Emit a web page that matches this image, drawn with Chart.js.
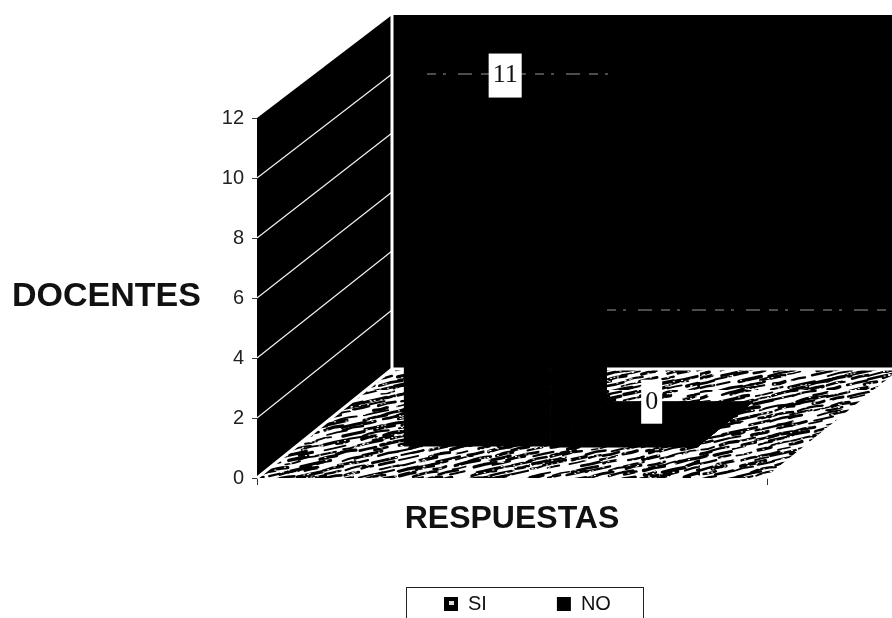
<!DOCTYPE html>
<html>
<head>
<meta charset="utf-8">
<style>
  html, body { margin: 0; padding: 0; background: #fff; overflow: hidden; }
  canvas { display: block; }
</style>
<script src="https://cdn.jsdelivr.net/npm/chart.js@4/dist/chart.umd.min.js"></script>
</head>
<body>
<canvas id="grafico" width="892" height="618"></canvas>
<script>
const categorias = ["RESPUESTAS"];
const valoresSi = [11];
const valoresNo = [0];
const nombresSeries = ["SI", "NO"];
const etiquetasY = [0, 2, 4, 6, 8, 10, 12];

// Profundidad del dibujo 3D: la caja del piso se corre 135px a la derecha y ~109px hacia arriba
const FONDO_X = 135;
const FONDO_Y = 109;
const BARRA_INI = 0.284;
const BARRA_FIN = 0.70;

function proyectar(chart, x, y, d) {
  const subida = FONDO_Y - (chart.chartArea.bottom - y) / 60;
  return [x + FONDO_X * d, y - subida * d];
}

function poligono(ctx, puntos, color) {
  ctx.beginPath();
  puntos.forEach((p, i) => (i ? ctx.lineTo(p[0], p[1]) : ctx.moveTo(p[0], p[1])));
  ctx.closePath();
  ctx.fillStyle = color;
  ctx.fill();
}

// Textura tipo escaneo del piso: trazos cortos inclinados
function hash(i, j) {
  const s = Math.sin(i * 12.9898 + j * 78.233) * 43758.5453;
  return s - Math.floor(s);
}

function crearTextura(ctx) {
  const c = document.createElement("canvas");
  c.width = 700;
  c.height = 130;
  const g = c.getContext("2d");
  g.fillStyle = "#fff";
  g.fillRect(0, 0, c.width, c.height);
  g.strokeStyle = "#000";
  g.lineCap = "round";
  for (let fila = 0; fila < 30; fila++) {
    for (let col = 0; col < 40; col++) {
      const x = col * 19 + hash(col, fila) * 12 - 8;
      const y = fila * 5 + hash(fila, col + 3) * 2.5;
      const largo = 11 + hash(col + 7, fila + 2) * 15;
      g.lineWidth = 1.6 + hash(col + 1, fila + 9) * 2;
      g.beginPath();
      g.moveTo(x, y + largo * 0.22);
      g.quadraticCurveTo(x + largo * 0.5, y + hash(col, fila + 5) * 3, x + largo, y);
      g.stroke();
    }
  }
  // Motas blancas del escaneo
  g.fillStyle = "#fff";
  for (let k = 0; k < 2600; k++) {
    g.fillRect(hash(k, 1) * c.width, hash(k, 2) * c.height, 2, 1);
  }
  return ctx.createPattern(c, "repeat");
}

const dibujo3d = {
  id: "dibujo3d",
  beforeLayout(chart) {
    // La separacion entre items no debe comerse el alto del grafico
    const ley = chart.legend;
    if (!ley.fitOriginal) {
      ley.fitOriginal = ley.fit;
      ley.fit = function () {
        this.fitOriginal();
        this.height = 80;
      };
    }
  },
  afterLayout(chart) {
    // La leyenda va dentro de su recuadro, bajo el piso
    const ley = chart.legend;
    ley.left = 444 - ley.options.labels.padding;
    ley.right = 892;
    ley.top = 594 - ley.options.labels.padding;
  },
  beforeDatasetsDraw(chart) {
    const { ctx, chartArea: a, scales } = chart;
    const yS = scales.y;
    const p = (x, y, d) => proyectar(chart, x, y, d);

    // Pared de fondo y pared izquierda
    poligono(ctx, [p(a.left, a.top, 1), p(a.right, a.top, 1), p(a.right, a.bottom, 1), p(a.left, a.bottom, 1)], "#000");
    poligono(ctx, [[a.left, a.top], p(a.left, a.top, 1), p(a.left, a.bottom, 1), [a.left, a.bottom]], "#000");

    ctx.strokeStyle = "#f2f2f2";
    ctx.lineWidth = 1.2;
    etiquetasY.slice(1, -1).forEach(v => {
      const y = yS.getPixelForValue(v);
      const fin = p(a.left, y, 1);
      ctx.beginPath();
      ctx.moveTo(a.left, y);
      ctx.lineTo(fin[0], fin[1]);
      ctx.stroke();
    });

    // Esquina blanca entre paredes
    const esqA = p(a.left, a.top, 1);
    const esqB = p(a.left, a.bottom, 1);
    ctx.lineWidth = 3;
    ctx.strokeStyle = "#fff";
    ctx.beginPath();
    ctx.moveTo(esqA[0], esqA[1]);
    ctx.lineTo(esqB[0], esqB[1]);
    ctx.stroke();

    // Piso
    const piso = [[a.left, a.bottom], [a.right, a.bottom], p(a.right, a.bottom, 1), p(a.left, a.bottom, 1)];
    poligono(ctx, piso, crearTextura(ctx));
    ctx.strokeStyle = "#fff";
    ctx.lineWidth = 3;
    ctx.beginPath();
    ctx.moveTo(piso[0][0], piso[0][1]);
    ctx.lineTo(piso[3][0], piso[3][1]);
    ctx.lineTo(piso[2][0], piso[2][1]);
    ctx.lineTo(piso[1][0], piso[1][1]);
    ctx.stroke();

    // Cara superior y lateral de cada barra
    chart.data.datasets.forEach((ds, i) => {
      const el = chart.getDatasetMeta(i).data[0];
      const x0 = el.x - el.width / 2;
      const x1 = el.x + el.width / 2;
      ctx.strokeStyle = ds.backgroundColor;
      ctx.lineWidth = 1;
      poligono(ctx, [p(x0, el.y, BARRA_INI), p(x1, el.y, BARRA_INI), p(x1, el.y, BARRA_FIN), p(x0, el.y, BARRA_FIN)], ds.backgroundColor);
      ctx.stroke();
      poligono(ctx, [p(x1, el.y, BARRA_INI), p(x1, el.y, BARRA_FIN), p(x1, a.bottom, BARRA_FIN), p(x1, a.bottom, BARRA_INI)], ds.backgroundColor);
      ctx.stroke();
    });
  },
  beforeDatasetDraw(chart) {
    const { ctx, chartArea: a } = chart;
    const d = proyectar(chart, 0, a.bottom, BARRA_INI);
    ctx.save();
    ctx.translate(d[0], d[1] - a.bottom);
  },
  afterDatasetDraw(chart) {
    chart.ctx.restore();
  },
  afterDatasetsDraw(chart) {
    const { ctx, scales } = chart;
    const yS = scales.y;

    // Restos de las lineas de rejilla en la pared de fondo
    ctx.strokeStyle = "#999";
    ctx.lineWidth = 1;
    ctx.setLineDash([9, 7, 3, 12, 14, 9]);
    const y10 = proyectar(chart, 0, yS.getPixelForValue(10), 1)[1];
    ctx.beginPath();
    ctx.moveTo(427, y10);
    ctx.lineTo(615, y10);
    ctx.stroke();
    const y2 = proyectar(chart, 0, yS.getPixelForValue(2), 1)[1];
    ctx.beginPath();
    ctx.moveTo(607, y2);
    ctx.lineTo(892, y2);
    ctx.stroke();
    ctx.setLineDash([]);

    // Etiquetas de datos con caja blanca
    ctx.textAlign = "center";
    ctx.textBaseline = "middle";
    ctx.font = "26px 'Liberation Serif'";
    chart.data.datasets.forEach((ds, i) => {
      const el = chart.getDatasetMeta(i).data[0];
      const texto = String(ds.data[0]);
      const cx = el.x + FONDO_X * (BARRA_INI + BARRA_FIN) / 2;
      const cy = proyectar(chart, 0, el.y, BARRA_FIN)[1];
      const w = ctx.measureText(texto).width + 8;
      ctx.fillStyle = "#fff";
      ctx.fillRect(cx - w / 2, cy - 22, w, 44);
      ctx.fillStyle = "#111";
      ctx.fillText(texto, cx, cy);
    });
  },
  afterDraw(chart) {
    const { ctx } = chart;
    // Titulo vertical en horizontal, como en el original
    ctx.fillStyle = "#111";
    ctx.font = "bold 34px 'Liberation Sans'";
    ctx.textAlign = "left";
    ctx.textBaseline = "middle";
    ctx.fillText("DOCENTES", 12, 297);

    // Recuadro de la leyenda (cortado por el borde inferior)
    ctx.strokeStyle = "#222";
    ctx.lineWidth = 1;
    ctx.strokeRect(406.5, 587.5, 237, 40);

    // Mota clara de la muestra SI
    ctx.fillStyle = "#ddd";
    ctx.fillRect(449, 601, 5, 4);
  }
};

const ctx = document.getElementById("grafico").getContext("2d");
new Chart(ctx, {
  type: "bar",
  data: {
    labels: categorias,
    datasets: [
      { label: nombresSeries[0], data: valoresSi, backgroundColor: "#000", borderWidth: 0, clip: false },
      { label: nombresSeries[1], data: valoresNo, backgroundColor: "#000", borderWidth: 0, clip: false }
    ]
  },
  options: {
    responsive: false,
    animation: false,
    layout: { padding: { left: 0, top: 118, right: 125, bottom: 0 } },
    datasets: { bar: { categoryPercentage: 0.5745, barPercentage: 1 } },
    plugins: {
      tooltip: { enabled: false },
      title: { display: false },
      legend: {
        display: true,
        position: "bottom",
        align: "start",
        labels: {
          boxWidth: 14,
          boxHeight: 14,
          padding: 70,
          color: "#111",
          font: { family: "'Liberation Sans'", size: 20 },
          generateLabels(chart) {
            const items = Chart.defaults.plugins.legend.labels.generateLabels(chart);
            items.forEach(it => { it.lineWidth = 0; });
            return items;
          }
        }
      }
    },
    scales: {
      x: {
        type: "category",
        offset: true,
        afterFit(scale) { scale.height = 60; },
        grid: { display: true, offset: true, drawOnChartArea: false, drawTicks: true, tickLength: 7, color: "#333" },
        border: { display: false },
        ticks: { display: false },
        title: {
          display: true,
          text: "RESPUESTAS",
          color: "#111",
          font: { family: "'Liberation Sans'", size: 32, weight: "bold" },
          padding: 0
        }
      },
      y: {
        min: 0,
        max: 12,
        afterFit(scale) { scale.width = 257; },
        afterBuildTicks(scale) { scale.ticks = etiquetasY.map(v => ({ value: v })); },
        grid: { display: true, drawOnChartArea: false, drawTicks: true, tickLength: 5, color: "#333" },
        border: { display: true, color: "#555" },
        ticks: {
          color: "#222",
          padding: 8,
          font: { family: "'Liberation Sans'", size: 20 }
        }
      }
    }
  },
  plugins: [dibujo3d]
});
</script>
</body>
</html>
